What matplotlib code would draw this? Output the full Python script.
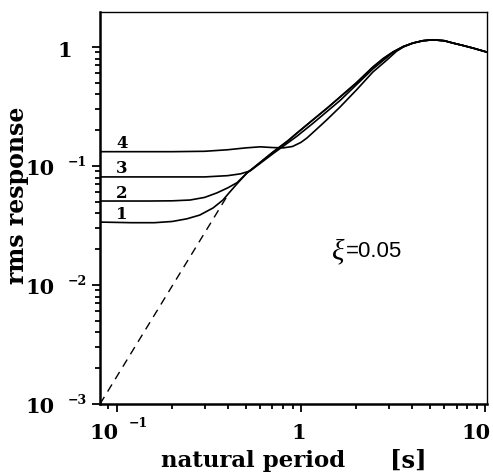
import matplotlib
matplotlib.use("Agg")
import matplotlib.pyplot as plt
from matplotlib.ticker import LogLocator, NullFormatter

# --- data (natural period T [s], rms response) ---
bundle_T = [0.55, 0.705, 0.85, 0.951, 1.16, 1.4, 1.63, 2.0, 2.46, 2.8, 3.16, 3.6,
            4.06, 4.6, 5.21, 6.0, 6.7, 7.6, 8.6, 10.2]
bundle_Y = [0.096, 0.131, 0.163, 0.189, 0.244, 0.31, 0.38, 0.50, 0.679, 0.80, 0.908, 1.01,
            1.08, 1.13, 1.15, 1.13, 1.08, 1.03, 0.98, 0.908]

c1_T = [0.081, 0.12, 0.16, 0.2, 0.24, 0.282, 0.333, 0.377, 0.411, 0.45, 0.509] + bundle_T
c1_Y = [0.0338, 0.0334, 0.0334, 0.0342, 0.036, 0.0387, 0.0444, 0.0518, 0.0605, 0.071, 0.0874] + bundle_Y

c2_T = [0.081, 0.15, 0.2, 0.25, 0.3, 0.35, 0.4, 0.45, 0.509] + bundle_T
c2_Y = [0.0508, 0.0508, 0.051, 0.0518, 0.0545, 0.0595, 0.0655, 0.0725, 0.0874] + bundle_Y

c3_T = [0.081, 0.3, 0.4, 0.47, 0.53, 0.705, 0.951, 1.16, 1.63, 2.46, 3.16, 3.6, 4.06,
        4.6, 5.21, 6.0, 6.7, 7.6, 8.6, 10.2]
c3_Y = [0.081, 0.081, 0.083, 0.086, 0.091, 0.127, 0.178, 0.228, 0.355, 0.655, 0.9, 1.01, 1.08,
        1.13, 1.15, 1.13, 1.08, 1.03, 0.98, 0.908]

c4_T = [0.081, 0.2, 0.3, 0.4, 0.5, 0.6, 0.7, 0.8, 0.9, 1.0, 1.078, 1.2, 1.38, 1.63, 2.0,
        2.46, 2.93, 3.3, 3.6, 4.06, 4.6, 5.21, 6.0, 6.7, 7.6, 8.6, 10.2]
c4_Y = [0.132, 0.132, 0.133, 0.137, 0.142, 0.145, 0.143, 0.142, 0.146, 0.158, 0.172, 0.2, 0.244,
        0.313, 0.435, 0.617, 0.778, 0.92, 1.0, 1.08, 1.13, 1.15, 1.13, 1.08, 1.03, 0.98, 0.908]

curves = [("1", c1_T, c1_Y), ("2", c2_T, c2_Y), ("3", c3_T, c3_Y), ("4", c4_T, c4_Y)]

asym_T = [0.081, 0.41]   # dashed asymptote
asym_Y = [0.001, 0.0605]

yticks = [1e-3, 1e-2, 1e-1, 1]
ytick_labels = [("10", "-3"), ("10", "-2"), ("10", "-1"), ("1", None)]
xticks = [0.1, 1, 10]
xtick_labels = [("10", "-1"), ("1", None), ("10", None)]

serif = "DejaVu Serif"

fig = plt.figure(figsize=(4.93, 4.73), dpi=100)
ax = fig.add_axes([100 / 493, 69 / 473, 387 / 493, 392 / 473])
ax.set_xscale("log")
ax.set_yscale("log")
ax.set_xlim(0.081, 10.25)
ax.set_ylim(1e-3, 1.97)

for name, T, Y in curves:
    ax.plot(T, Y, color="black", lw=1.2, solid_joinstyle="round")
    ax.annotate(name, xy=(0.1065, Y[0]), xytext=(0, 8), textcoords="offset pixels",
                ha="center", va="center", fontsize=12, fontweight="bold", family=serif)

ax.plot(asym_T, asym_Y, color="black", lw=1.0, dashes=(6, 4.5))

# axes frame
ax.spines["left"].set_linewidth(1.8)
ax.spines["bottom"].set_linewidth(1.8)
ax.spines["top"].set_linewidth(1.0)
ax.spines["right"].set_linewidth(1.0)
ax.tick_params(which="both", direction="out", top=False, right=False, width=1.3)
ax.tick_params(which="major", length=6)
ax.tick_params(which="minor", length=3.5)

ax.set_xticks(xticks)
ax.set_yticks(yticks)
ax.xaxis.set_minor_locator(LogLocator(base=10, subs=range(2, 10)))
ax.yaxis.set_minor_locator(LogLocator(base=10, subs=range(2, 10)))
ax.set_xticklabels([])
ax.set_yticklabels([])
ax.xaxis.set_minor_formatter(NullFormatter())
ax.yaxis.set_minor_formatter(NullFormatter())

# tick labels drawn as base + raised exponent, like the original
for v, (base, ex) in zip(yticks, ytick_labels):
    if ex is None:
        ax.annotate(base, xy=(0, v), xycoords=("axes fraction", "data"), xytext=(-28, -4),
                    textcoords="offset pixels", ha="right", va="center",
                    fontsize=15, fontweight="bold", family=serif, annotation_clip=False)
    else:
        ax.annotate(base, xy=(0, v), xycoords=("axes fraction", "data"), xytext=(-45, -3),
                    textcoords="offset pixels", ha="right", va="center",
                    fontsize=15, fontweight="bold", family=serif, annotation_clip=False)
        ax.annotate("\u2212" + ex[1:], xy=(0, v), xycoords=("axes fraction", "data"),
                    xytext=(-32, 4), textcoords="offset pixels", ha="left", va="center",
                    fontsize=9, fontweight="bold", family=serif, annotation_clip=False)

for v, (base, ex) in zip(xticks, xtick_labels):
    if ex is None:
        if base == "1":
            ax.annotate(base, xy=(v, 0), xycoords=("data", "axes fraction"), xytext=(-2, -29),
                        textcoords="offset pixels", ha="center", va="center",
                        fontsize=15, fontweight="bold", family=serif, annotation_clip=False)
        else:  # last label kept inside the figure edge
            ax.annotate(base, xy=(v, 0), xycoords=("data", "axes fraction"), xytext=(6, -29),
                        textcoords="offset pixels", ha="right", va="center",
                        fontsize=15, fontweight="bold", family=serif, annotation_clip=False)
    else:
        ax.annotate(base, xy=(v, 0), xycoords=("data", "axes fraction"), xytext=(-13, -29),
                    textcoords="offset pixels", ha="center", va="center",
                    fontsize=15, fontweight="bold", family=serif, annotation_clip=False)
        ax.annotate("\u2212" + ex[1:], xy=(v, 0), xycoords=("data", "axes fraction"),
                    xytext=(12, -19), textcoords="offset pixels", ha="left", va="center",
                    fontsize=9, fontweight="bold", family=serif, annotation_clip=False)

# axis titles
fig.text(253 / 493, 1 - 461 / 473, "natural period", ha="center", va="center",
         fontsize=16.5, fontweight="bold", family=serif)
fig.text(408 / 493, 1 - 461 / 473, "[s]", ha="center", va="center",
         fontsize=17.5, fontweight="bold", family=serif)
ax.set_ylabel("rms response", fontsize=17, fontweight="bold", family=serif)
ax.yaxis.set_label_coords(-0.184, 0.533)

ax.text(0.633, 0.388, "\u03be", transform=ax.transAxes, ha="right", va="center",
        fontsize=21, style="italic", family="Liberation Serif")
ax.text(0.636, 0.388, "=0.05", transform=ax.transAxes, ha="left", va="center",
        fontsize=16, family="Liberation Sans")

fig.savefig("out.png", dpi=100)
